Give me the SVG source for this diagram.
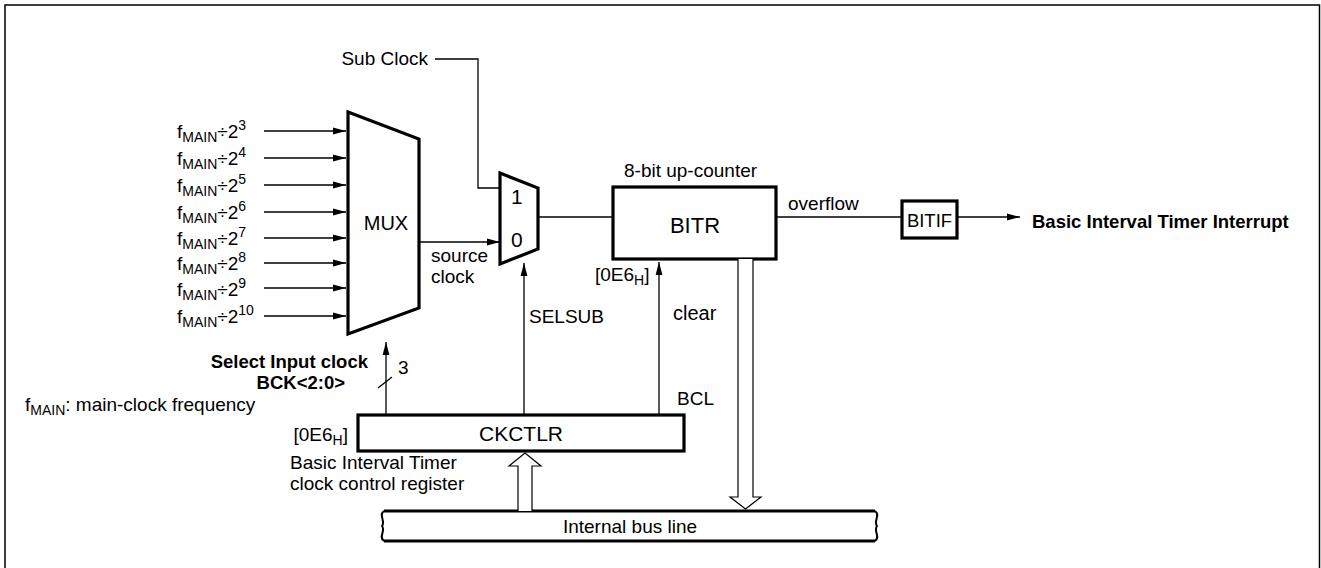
<svg xmlns="http://www.w3.org/2000/svg" width="1321" height="568" viewBox="0 0 1321 568">
<style>
text{font-family:"Liberation Sans",Arial,sans-serif;font-size:19px;fill:#000}
.b{font-weight:bold;font-size:18.5px}
.s{font-size:14px}
.thin{fill:none;stroke:#000;stroke-width:1.3}
.thick{fill:#fff;stroke:#000;stroke-width:3.2}
.hollow{fill:#fff;stroke:#000;stroke-width:1.2}
</style>
<defs>
<marker id="ah" viewBox="0 0 13 8" refX="13" refY="4" markerWidth="13" markerHeight="8" markerUnits="userSpaceOnUse" orient="auto">
<path d="M0,0.6 L13,4 L0,7.4 Z" fill="#000"/>
</marker>
</defs>
<rect width="1321" height="568" fill="#fff"/>
<path d="M5,570 V5 H1319.5 V570" fill="none" stroke="#000" stroke-width="1.5"/>

<g id="inputs">
<text x="177" y="138">f<tspan class="s" dy="4">MAIN</tspan><tspan dy="-4">÷2</tspan><tspan class="s" dy="-8">3</tspan></text>
<text x="177" y="165">f<tspan class="s" dy="4">MAIN</tspan><tspan dy="-4">÷2</tspan><tspan class="s" dy="-8">4</tspan></text>
<text x="177" y="192">f<tspan class="s" dy="4">MAIN</tspan><tspan dy="-4">÷2</tspan><tspan class="s" dy="-8">5</tspan></text>
<text x="177" y="219">f<tspan class="s" dy="4">MAIN</tspan><tspan dy="-4">÷2</tspan><tspan class="s" dy="-8">6</tspan></text>
<text x="177" y="245">f<tspan class="s" dy="4">MAIN</tspan><tspan dy="-4">÷2</tspan><tspan class="s" dy="-8">7</tspan></text>
<text x="177" y="270">f<tspan class="s" dy="4">MAIN</tspan><tspan dy="-4">÷2</tspan><tspan class="s" dy="-8">8</tspan></text>
<text x="177" y="296">f<tspan class="s" dy="4">MAIN</tspan><tspan dy="-4">÷2</tspan><tspan class="s" dy="-8">9</tspan></text>
<text x="177" y="323">f<tspan class="s" dy="4">MAIN</tspan><tspan dy="-4">÷2</tspan><tspan class="s" dy="-8">10</tspan></text>
</g>

<g id="mux">
<path class="thick" d="M348,112 L419,139 L419,308 L348,334 Z"/>
<text x="386" y="230" text-anchor="middle" style="font-size:20px">MUX</text>
</g>

<g id="mux2">
<path class="thick" d="M500,173 L538,188 L538,249 L500,264 Z"/>
<text x="511" y="204" style="font-size:21px">1</text>
<text x="511" y="247" style="font-size:21px">0</text>
</g>

<g id="bitr">
<rect class="thick" x="613" y="187" width="163" height="72"/>
<text x="695" y="233" text-anchor="middle" style="font-size:22px">BITR</text>
<text x="624" y="177">8-bit up-counter</text>
<text x="595" y="281">[0E6<tspan class="s" dy="4">H</tspan><tspan dy="-4">]</tspan></text>
</g>

<g id="bitif">
<rect class="thick" x="902" y="201" width="55" height="37"/>
<text x="929.5" y="227" text-anchor="middle" style="font-size:18.5px">BITIF</text>
</g>

<g id="ckctlr">
<rect class="thick" x="358" y="415" width="326" height="36"/>
<text x="521" y="441" text-anchor="middle" style="font-size:21px">CKCTLR</text>
<text x="348" y="441" text-anchor="end">[0E6<tspan class="s" dy="4">H</tspan><tspan dy="-4">]</tspan></text>
<text x="290" y="469">Basic Interval Timer</text>
<text x="290" y="490">clock control register</text>
</g>

<g id="bus">
<path d="M384,511 H875 M384,541 H875" fill="none" stroke="#000" stroke-width="3"/>
<path d="M384,511 C378,515 386,521 382,526 C386,531 378,537 384,541" fill="none" stroke="#000" stroke-width="2"/>
<path d="M875,511 C881,515 873,521 877,526 C873,531 881,537 875,541" fill="none" stroke="#000" stroke-width="2"/>
<text x="630" y="533" text-anchor="middle">Internal bus line</text>
</g>

<g id="labels">
<text x="428" y="65" text-anchor="end">Sub Clock</text>
<text x="431" y="262">source</text>
<text x="431" y="283">clock</text>
<text x="788" y="210">overflow</text>
<text x="1032" y="228" class="b">Basic Interval Timer Interrupt</text>
<text x="529" y="323">SELSUB</text>
<text x="673" y="320" style="font-size:20px">clear</text>
<text x="677" y="405">BCL</text>
<text x="368" y="368" text-anchor="end" class="b">Select Input clock</text>
<text x="345" y="389" text-anchor="end" class="b">BCK&lt;2:0&gt;</text>
<text x="398" y="374">3</text>
<text x="25" y="411">f<tspan class="s" dy="4">MAIN</tspan><tspan dy="-4">: main-clock frequency</tspan></text>
</g>

<g id="connectors">
<path class="thin" d="M264,131 H346" marker-end="url(#ah)"/>
<path class="thin" d="M264,158 H346" marker-end="url(#ah)"/>
<path class="thin" d="M264,185 H346" marker-end="url(#ah)"/>
<path class="thin" d="M264,212 H346" marker-end="url(#ah)"/>
<path class="thin" d="M264,238 H346" marker-end="url(#ah)"/>
<path class="thin" d="M264,263 H346" marker-end="url(#ah)"/>
<path class="thin" d="M264,288 H346" marker-end="url(#ah)"/>
<path class="thin" d="M264,316 H346" marker-end="url(#ah)"/>
<path class="thin" d="M435,59 H478 V188 H500"/>
<path class="thin" d="M419,242 H500" marker-end="url(#ah)"/>
<path class="thin" d="M538,217 H613"/>
<path class="thin" d="M776,217 H902"/>
<path class="thin" d="M957,217 H1020" marker-end="url(#ah)"/>
<path class="thin" d="M386,415 V342" marker-end="url(#ah)"/>
<path class="thin" d="M378,388 L392,377"/>
<path class="thin" d="M524,415 V263" marker-end="url(#ah)"/>
<path class="thin" d="M659,415 V262" marker-end="url(#ah)"/>
<path class="hollow" d="M738,259 V497 H730 L745.5,509 L761,497 H753 V259"/>
<path class="hollow" d="M518,511 V466 H509 L525,453 L541,466 H532 V511"/>
</g>
</svg>
